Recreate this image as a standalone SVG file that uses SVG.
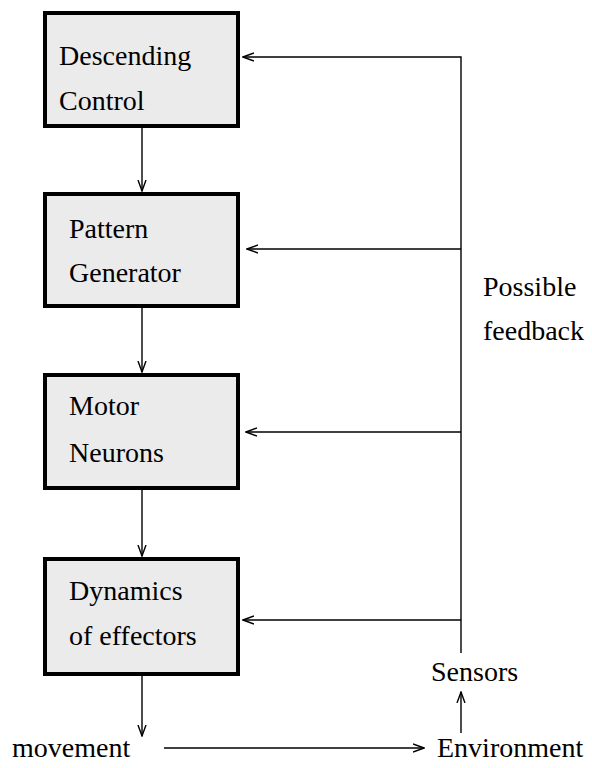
<svg xmlns="http://www.w3.org/2000/svg" width="592" height="768" viewBox="0 0 592 768">
<defs>
<style>
.box{fill:#ebebeb;stroke:#000;stroke-width:4}
.ln{stroke:#000;stroke-width:1.4;fill:none}
</style>
<marker id="ah" viewBox="0 0 12 10" refX="11" refY="5" markerWidth="12" markerHeight="10" markerUnits="userSpaceOnUse" orient="auto">
<path d="M0,1 L11,5 L0,9" fill="none" stroke="#000" stroke-width="1.4"/>
</marker>
</defs>
<rect width="592" height="768" fill="#fff"/>
<g id="descending-control">
<rect class="box" x="45" y="13" width="193" height="113"/>
<text x="59" y="65" font-family="Liberation Serif" font-size="28" fill="#000">Descending</text>
<text x="59" y="110" font-family="Liberation Serif" font-size="28" fill="#000">Control</text>
</g>
<g id="pattern-generator">
<rect class="box" x="45" y="194" width="193" height="112"/>
<text x="69" y="238" font-family="Liberation Serif" font-size="28" fill="#000">Pattern</text>
<text x="69" y="282" font-family="Liberation Serif" font-size="28" fill="#000">Generator</text>
</g>
<g id="motor-neurons">
<rect class="box" x="45" y="375" width="193" height="113"/>
<text x="69" y="415" font-family="Liberation Serif" font-size="28" fill="#000">Motor</text>
<text x="69" y="462" font-family="Liberation Serif" font-size="28" fill="#000">Neurons</text>
</g>
<g id="dynamics">
<rect class="box" x="45" y="559" width="193" height="115"/>
<text x="69" y="600" font-family="Liberation Serif" font-size="28" fill="#000">Dynamics</text>
<text x="69" y="645" font-family="Liberation Serif" font-size="28" fill="#000">of effectors</text>
</g>
<g id="movement"><text x="12" y="757" font-family="Liberation Serif" font-size="28" fill="#000">movement</text></g>
<g id="environment"><text x="437" y="757" font-family="Liberation Serif" font-size="28" fill="#000">Environment</text></g>
<g id="sensors"><text x="431" y="681" font-family="Liberation Serif" font-size="28" fill="#000">Sensors</text></g>
<g id="feedback-label">
<text x="483" y="296" font-family="Liberation Serif" font-size="28" fill="#000">Possible</text>
<text x="483" y="340" font-family="Liberation Serif" font-size="28" fill="#000">feedback</text>
</g>
<g id="connectors">
<line class="ln" x1="142" y1="128" x2="142" y2="191" marker-end="url(#ah)"/>
<line class="ln" x1="142" y1="308" x2="142" y2="372" marker-end="url(#ah)"/>
<line class="ln" x1="142" y1="490" x2="142" y2="556" marker-end="url(#ah)"/>
<line class="ln" x1="142" y1="676" x2="142" y2="736" marker-end="url(#ah)"/>
<line class="ln" x1="164" y1="748" x2="424" y2="748" marker-end="url(#ah)"/>
<line class="ln" x1="461" y1="733" x2="461" y2="692" marker-end="url(#ah)"/>
<polyline class="ln" points="461,653 461,57 243,57" marker-end="url(#ah)"/>
<line class="ln" x1="461" y1="249" x2="247" y2="249" marker-end="url(#ah)"/>
<line class="ln" x1="461" y1="432" x2="246" y2="432" marker-end="url(#ah)"/>
<line class="ln" x1="461" y1="620" x2="243" y2="620" marker-end="url(#ah)"/>
</g>
</svg>
